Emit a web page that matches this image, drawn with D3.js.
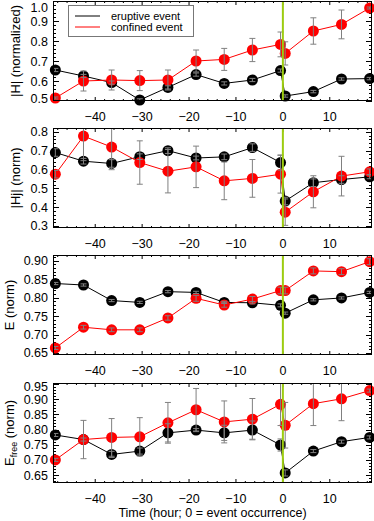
<!DOCTYPE html>
<html lang="en">
<head>
  <meta charset="utf-8">
  <title>eruptive vs confined</title>
  <script src="https://d3js.org/d3.v7.min.js"></script>
  <style>
    body { margin: 0; background: #fff; }
    svg { display: block; font-family: "Liberation Sans", Arial, sans-serif; }
    .frame { fill: none; stroke: #000; stroke-width: 1; }
    .tick { stroke: #000; stroke-width: 1; }
    .errbar { stroke: #808080; stroke-width: 1; fill: none; }
  </style>
</head>
<body>
<script type="text/javascript">
// time of each sample (hours, 0 = event occurrence)
var times = [-48.5, -42.5, -36.5, -30.5, -24.5, -18.5, -12.5, -6.5, -0.5, 0.5, 6.5, 12.5, 18.5];

// |H| (normalized)
var eruptH    = [0.655, 0.625, 0.592, 0.505, 0.568, 0.632, 0.588, 0.605, 0.652, 0.525, 0.547, 0.610, 0.612];
var eruptHErr = [0.008, 0.008, 0.008, 0.006, 0.008, 0.008, 0.008, 0.008, 0.008, 0.006, 0.006, 0.006, 0.006];
var confH     = [0.515, 0.600, 0.605, 0.602, 0.605, 0.700, 0.708, 0.755, 0.783, 0.738, 0.850, 0.883, 0.965];
var confHErr  = [0.005, 0.050, 0.050, 0.050, 0.050, 0.055, 0.055, 0.058, 0.062, 0.058, 0.066, 0.072, 0.005];

// |Hj| (norm)
var eruptHj    = [0.690, 0.644, 0.632, 0.668, 0.700, 0.661, 0.667, 0.716, 0.637, 0.433, 0.530, 0.547, 0.561];
var eruptHjErr = [0.020, 0.015, 0.020, 0.015, 0.015, 0.010, 0.015, 0.020, 0.040, 0.020, 0.020, 0.020, 0.010];
var confHj     = [0.575, 0.777, 0.719, 0.637, 0.591, 0.614, 0.540, 0.553, 0.575, 0.374, 0.482, 0.565, 0.588];
var confHjErr  = [0.020, 0.130, 0.120, 0.115, 0.115, 0.110, 0.100, 0.100, 0.100, 0.070, 0.085, 0.105, 0.015];

// E (norm)
var eruptE    = [0.838, 0.834, 0.792, 0.787, 0.816, 0.814, 0.787, 0.786, 0.779, 0.758, 0.794, 0.799, 0.814];
var eruptEErr = [0.003, 0.003, 0.003, 0.003, 0.003, 0.003, 0.003, 0.003, 0.004, 0.003, 0.003, 0.003, 0.003];
var confE     = [0.664, 0.720, 0.713, 0.713, 0.745, 0.798, 0.780, 0.796, 0.819, 0.819, 0.872, 0.870, 0.897];
var confEErr  = [0.004, 0.005, 0.005, 0.005, 0.006, 0.008, 0.006, 0.007, 0.009, 0.009, 0.008, 0.008, 0.008];

// E_free (norm)
var eruptF    = [0.782, 0.767, 0.718, 0.729, 0.789, 0.798, 0.789, 0.798, 0.749, 0.657, 0.729, 0.760, 0.774];
var eruptFErr = [0.005, 0.005, 0.010, 0.010, 0.030, 0.005, 0.025, 0.030, 0.020, 0.010, 0.005, 0.005, 0.005];
var confF     = [0.700, 0.767, 0.774, 0.776, 0.822, 0.865, 0.825, 0.834, 0.883, 0.814, 0.885, 0.901, 0.928];
var confFErr  = [0.005, 0.063, 0.062, 0.063, 0.067, 0.070, 0.069, 0.068, 0.070, 0.075, 0.072, 0.072, 0.005];

var xTicks = [-40, -30, -20, -10, 0, 10];
var legendLabels = ["eruptive event", "confined event"];
var xTitle = "Time (hour; 0 = event occurrence)";

var width = 374, height = 521;
var left = 53, right = 372;
var panelH = 100;
var fs = 12.5;

var panels = [
  { top: 1,   domain: [0.5, 1.0],     ticks: [0.5, 0.6, 0.7, 0.8, 0.9, 1.0], minor: 0.02, fmt: ".1f",
    title: "|H| (normalized)", titleX: 15, erupt: eruptH, eruptErr: eruptHErr, conf: confH, confErr: confHErr },
  { top: 128, domain: [0.29, 0.82],   ticks: [0.3, 0.4, 0.5, 0.6, 0.7, 0.8], minor: 0.02, fmt: ".1f",
    title: "|Hj| (norm)", titleX: 15, erupt: eruptHj, eruptErr: eruptHjErr, conf: confHj, confErr: confHjErr },
  { top: 255, domain: [0.645, 0.915], ticks: [0.65, 0.70, 0.75, 0.80, 0.85, 0.90], minor: 0.01, fmt: ".2f",
    title: "E (norm)", titleX: 9, erupt: eruptE, eruptErr: eruptEErr, conf: confE, confErr: confEErr },
  { top: 383, domain: [0.624, 0.953], ticks: [0.65, 0.70, 0.75, 0.80, 0.85, 0.90, 0.95], minor: 0.01, fmt: ".2f",
    title: "free", titleX: 9, erupt: eruptF, eruptErr: eruptFErr, conf: confF, confErr: confFErr }
];

var svg = d3.select("body").append("svg")
  .attr("width", width)
  .attr("height", height);

var x = d3.scaleLinear().domain([-49, 19]).range([left, right]);
var xMinor = d3.range(-48, 20, 2);

panels.forEach(function(p, i) {
  var bottom = p.top + panelH;
  var y = d3.scaleLinear().domain(p.domain).range([bottom, p.top]);
  var g = svg.append("g");

  g.append("clipPath").attr("id", "clip" + i)
    .append("rect").attr("x", left).attr("y", p.top)
    .attr("width", right - left).attr("height", panelH);

  // x ticks (top and bottom, inward)
  xMinor.forEach(function(t) {
    var major = xTicks.indexOf(t) >= 0;
    var len = major ? 4 : 2;
    g.append("line").attr("class", "tick")
      .attr("x1", x(t)).attr("x2", x(t)).attr("y1", bottom).attr("y2", bottom - len);
    g.append("line").attr("class", "tick")
      .attr("x1", x(t)).attr("x2", x(t)).attr("y1", p.top).attr("y2", p.top + len);
  });

  // y ticks (left and right, inward)
  var lo = Math.ceil(p.domain[0] / p.minor - 1e-6), hi = Math.floor(p.domain[1] / p.minor + 1e-6);
  for (var k = lo; k <= hi; k++) {
    var v = k * p.minor;
    var major = p.ticks.some(function(t) { return Math.abs(t - v) < 1e-6; });
    var len = major ? 6 : 3;
    var yy = Math.round(y(v)) + 0.5;
    g.append("line").attr("class", "tick")
      .attr("x1", left).attr("x2", left + len).attr("y1", yy).attr("y2", yy);
    g.append("line").attr("class", "tick")
      .attr("x1", right).attr("x2", right - len).attr("y1", yy).attr("y2", yy);
  }

  // y tick labels
  var fmt = d3.format(p.fmt);
  p.ticks.forEach(function(t) {
    var ty = Math.max(Math.max(p.top + 3, 7), Math.min(bottom - 3, y(t)));
    g.append("text")
      .attr("x", 48).attr("y", ty).attr("dy", "0.36em")
      .attr("text-anchor", "end").attr("font-size", fs)
      .text(fmt(t));
  });

  // x tick labels
  xTicks.forEach(function(t) {
    g.append("text")
      .attr("x", x(t)).attr("y", bottom + 20)
      .attr("text-anchor", "middle").attr("font-size", fs)
      .text(t < 0 ? "\u2212" + Math.abs(t) : String(t));
  });

  // y title
  var cy = p.top + panelH / 2;
  var tt = g.append("text")
    .attr("transform", "translate(" + p.titleX + "," + cy + ") rotate(-90)")
    .attr("text-anchor", "middle").attr("dy", "0.36em").attr("font-size", 13);
  if (i === 3) {
    tt.append("tspan").text("E");
    tt.append("tspan").attr("font-size", 9).attr("dy", "3").text(p.title);
    tt.append("tspan").attr("dy", "-3").text(" (norm)");
  } else {
    tt.text(p.title);
  }

  // series
  var line = d3.line()
    .x(function(d) { return x(d[0]); })
    .y(function(d) { return y(d[1]); });

  var series = [
    { vals: p.erupt, err: p.eruptErr, color: "#000000" },
    { vals: p.conf, err: p.confErr, color: "#ff0000" }
  ];

  series.forEach(function(s) {
    var pts = times.map(function(t, j) { return [t, s.vals[j]]; });
    g.append("path")
      .attr("d", line(pts))
      .attr("fill", "none").attr("stroke", s.color).attr("stroke-width", 1);
    g.selectAll(null).data(pts).enter().append("circle")
      .attr("cx", function(d) { return x(d[0]); })
      .attr("cy", function(d) { return y(d[1]); })
      .attr("r", 5.5)
      .attr("fill", s.color);
  });

  // error bars on top
  var eg = g.append("g").attr("clip-path", "url(#clip" + i + ")");
  series.forEach(function(s) {
    times.forEach(function(t, j) {
      var cx = x(t), y1 = y(s.vals[j] + s.err[j]), y2 = y(s.vals[j] - s.err[j]);
      eg.append("path").attr("class", "errbar")
        .attr("d", "M" + cx + "," + y1 + "V" + y2 +
          "M" + (cx - 3) + "," + y1 + "H" + (cx + 3) +
          "M" + (cx - 3) + "," + y2 + "H" + (cx + 3));
    });
  });

  // event line at t = 0
  g.append("line")
    .attr("x1", x(0)).attr("x2", x(0)).attr("y1", p.top).attr("y2", bottom)
    .attr("stroke", "#9ccc10").attr("stroke-width", 2);

  // frame
  g.append("rect").attr("class", "frame")
    .attr("x", left + 0.5).attr("y", p.top + 0.5)
    .attr("width", right - left - 1).attr("height", panelH - 1);
});

// legend in the first panel
var lg = svg.append("g");
lg.append("rect")
  .attr("x", 68.5).attr("y", 5.5).attr("width", 125).attr("height", 31)
  .attr("fill", "#fff").attr("stroke", "#777");
["#000000", "#ff0000"].forEach(function(c, i) {
  var ly = 16 + i * 11;
  lg.append("line").attr("x1", 75).attr("x2", 100).attr("y1", ly).attr("y2", ly)
    .attr("stroke", c).attr("stroke-width", 1);
  lg.append("text").attr("x", 111).attr("y", ly).attr("dy", "0.35em")
    .attr("font-size", 11).text(legendLabels[i]);
});

// x title
svg.append("text")
  .attr("x", (left + right) / 2).attr("y", 517)
  .attr("text-anchor", "middle").attr("font-size", fs)
  .text(xTitle);
</script>
</body>
</html>
